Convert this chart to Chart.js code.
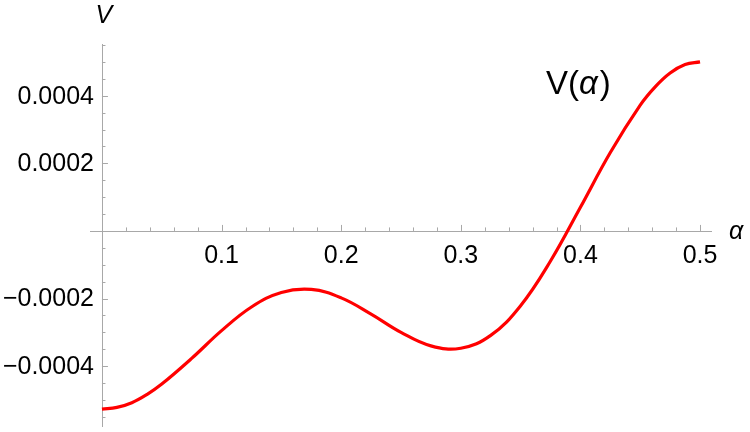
<!DOCTYPE html>
<html>
<head>
<meta charset="utf-8">
<script src="https://cdn.jsdelivr.net/npm/chart.js@4.4.1/dist/chart.umd.min.js"></script>
<style>
  html, body { margin: 0; padding: 0; background: #ffffff; }
  #wrap { width: 750px; height: 432px; }
</style>
</head>
<body>
<div id="wrap"><canvas id="v-chart" width="750" height="432"></canvas></div>
<script>
// values
const alphaValues = [0, 0.0125, 0.025, 0.0375, 0.05, 0.075, 0.1, 0.125, 0.15, 0.175, 0.2, 0.225, 0.25,
  0.275, 0.3, 0.325, 0.35, 0.375, 0.4, 0.425, 0.45, 0.4625, 0.475, 0.4875, 0.5];
const potentialValues = [-0.000527, -0.000522, -0.000508, -0.000484, -0.000453, -0.000377, -0.000295,
  -0.000225, -0.000182, -0.000173, -0.000198, -0.000246, -0.000300, -0.000340, -0.000347, -0.000309,
  -0.000221, -0.000089, 0.000070, 0.000232, 0.000372, 0.000426, 0.000467, 0.000492, 0.000500];

const xMajorTicks = [0.1, 0.2, 0.3, 0.4, 0.5];
const xTickLabels = ['0.1', '0.2', '0.3', '0.4', '0.5'];
const xMinorTicks = [0.02, 0.04, 0.06, 0.08, 0.12, 0.14, 0.16, 0.18, 0.22, 0.24, 0.26, 0.28,
  0.32, 0.34, 0.36, 0.38, 0.42, 0.44, 0.46, 0.48];
const yMajorTicks = [-0.0004, -0.0002, 0.0002, 0.0004];
const yTickLabels = ['\u22120.0004', '\u22120.0002', '0.0002', '0.0004'];
const yMinorTicks = [-0.00055, -0.0005, -0.00045, -0.00035, -0.0003, -0.00025, -0.00015,
  -0.0001, -0.00005, 0.00005, 0.0001, 0.00015, 0.00025, 0.0003, 0.00035, 0.00045, 0.0005, 0.00055];

const xRange = [-0.01, 0.51];
const yRange = [-0.00058, 0.000553];

const axisColor = '#a8a8a8';
const fontFamily = 'Arial, "Liberation Sans", sans-serif';

const axesPlugin = {
  id: 'axesPlugin',
  beforeDatasetsDraw(chart) {
    const {ctx, chartArea, scales} = chart;
    const x0 = scales.x.getPixelForValue(0);
    const y0 = scales.y.getPixelForValue(0);
    ctx.save();
    ctx.strokeStyle = axisColor;
    ctx.lineWidth = 1;

    ctx.beginPath();
    ctx.moveTo(chartArea.left, Math.round(y0) + 0.5);
    ctx.lineTo(chartArea.right, Math.round(y0) + 0.5);
    ctx.moveTo(Math.round(x0) + 0.5, chartArea.top);
    ctx.lineTo(Math.round(x0) + 0.5, chartArea.bottom);

    const tick = (list, len, isX) => {
      list.forEach((v) => {
        if (isX) {
          const px = Math.round(scales.x.getPixelForValue(v)) + 0.5;
          ctx.moveTo(px, y0);
          ctx.lineTo(px, y0 - len);
        } else {
          const py = Math.round(scales.y.getPixelForValue(v)) + 0.5;
          ctx.moveTo(x0, py);
          ctx.lineTo(x0 + len, py);
        }
      });
    };
    tick(xMajorTicks, 6, true);
    tick(xMinorTicks, 3.5, true);
    tick(yMajorTicks, 6, false);
    tick(yMinorTicks, 3.5, false);
    ctx.stroke();

    ctx.fillStyle = '#000000';
    ctx.font = '25px ' + fontFamily;
    ctx.textAlign = 'center';
    ctx.textBaseline = 'middle';
    xMajorTicks.forEach((v, i) => {
      ctx.fillText(xTickLabels[i], scales.x.getPixelForValue(v), y0 + 25);
    });
    ctx.textAlign = 'right';
    yMajorTicks.forEach((v, i) => {
      ctx.fillText(yTickLabels[i], x0 - 8, scales.y.getPixelForValue(v) + 1);
    });

    // axis names
    ctx.font = 'italic 25px ' + fontFamily;
    ctx.textAlign = 'center';
    ctx.fillText('V', x0 + 2, 16);
    ctx.textAlign = 'left';
    ctx.fillText('\u03b1', chartArea.right + 17, y0 + 1);

    // curve label V(α)
    let lx = 546;
    const ly = 94;
    ctx.textBaseline = 'alphabetic';
    const parts = [['V(', ''], ['\u03b1', 'italic '], [')', '']];
    parts.forEach(([txt, style]) => {
      ctx.font = style + '33px ' + fontFamily;
      ctx.fillText(txt, lx, ly);
      lx += ctx.measureText(txt).width + (style ? 2 : 0);
    });
    ctx.restore();
  }
};

const ctx = document.getElementById('v-chart').getContext('2d');
new Chart(ctx, {
  type: 'line',
  data: {
    datasets: [{
      label: 'V(\u03b1)',
      data: alphaValues.map((a, i) => ({x: a, y: potentialValues[i]})),
      borderColor: '#ff0000',
      borderWidth: 3.2,
      pointRadius: 0,
      fill: false,
      tension: 0.4
    }]
  },
  options: {
    responsive: false,
    animation: false,
    layout: {
      padding: {left: 90, right: 38, top: 44, bottom: 5}
    },
    scales: {
      x: {type: 'linear', min: xRange[0], max: xRange[1], display: false},
      y: {type: 'linear', min: yRange[0], max: yRange[1], display: false}
    },
    plugins: {
      legend: {display: false},
      tooltip: {enabled: false}
    }
  },
  plugins: [axesPlugin]
});
</script>
</body>
</html>
